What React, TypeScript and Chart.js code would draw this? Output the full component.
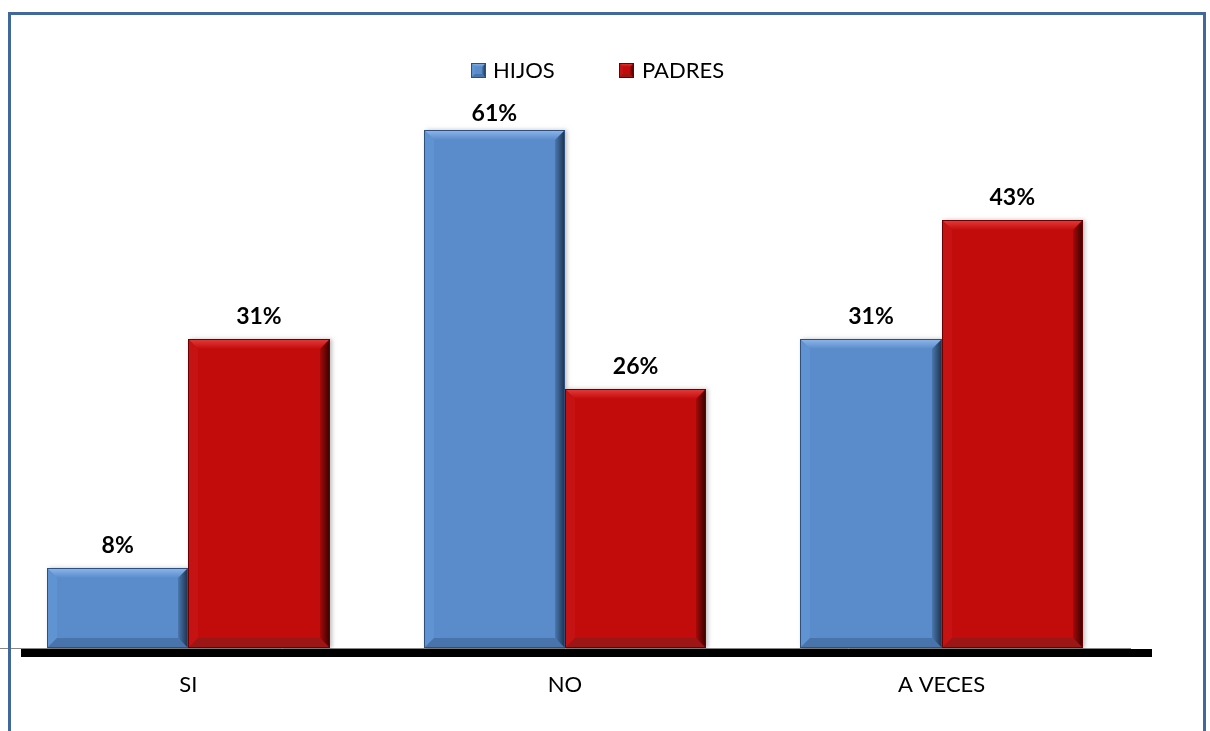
import React, { useEffect, useRef } from "react";
import { Chart, registerables } from "chart.js";
Chart.register(...registerables);

const categories = ["SI", "NO", "A VECES"];
const seriesNames = ["HIJOS", "PADRES"];
const hijos = [0.08, 0.61, 0.31];
const padres = [0.31, 0.26, 0.43];
const yMax = 0.52;

const FONT = "Lato, 'Open Sans', sans-serif";

const palettes = [
  { fill: "#5a8bca", top: "#8fb8ec", left: "#6093d2", bottom: "#4874ab", rightIn: "#4a78b0", rightOut: "#1b2f4a", outline: "#2f507c" },
  { fill: "#c20b0b", top: "#e63c3c", left: "#c51212", bottom: "#9c1616", rightIn: "#a40a0a", rightOut: "#360000", outline: "#6a0000" },
];

function bevelRect(ctx: CanvasRenderingContext2D, L: number, T: number, R: number, B: number, p: any, bv: number) {
  ctx.fillStyle = p.fill;
  ctx.fillRect(L, T, R - L, B - T);
  // top
  let g = ctx.createLinearGradient(0, T, 0, T + bv);
  g.addColorStop(0, p.top);
  g.addColorStop(1, p.fill);
  ctx.fillStyle = g;
  ctx.beginPath();
  ctx.moveTo(L, T); ctx.lineTo(R, T); ctx.lineTo(R - bv, T + bv); ctx.lineTo(L + bv, T + bv); ctx.closePath();
  ctx.fill();
  // left
  ctx.fillStyle = p.left;
  ctx.beginPath();
  ctx.moveTo(L, T); ctx.lineTo(L + bv, T + bv); ctx.lineTo(L + bv, B - bv); ctx.lineTo(L, B); ctx.closePath();
  ctx.fill();
  // bottom
  ctx.fillStyle = p.bottom;
  ctx.beginPath();
  ctx.moveTo(L, B); ctx.lineTo(L + bv, B - bv); ctx.lineTo(R - bv, B - bv); ctx.lineTo(R, B); ctx.closePath();
  ctx.fill();
  // right
  g = ctx.createLinearGradient(R - bv, 0, R, 0);
  g.addColorStop(0, p.rightIn);
  g.addColorStop(1, p.rightOut);
  ctx.fillStyle = g;
  ctx.beginPath();
  ctx.moveTo(R, T); ctx.lineTo(R, B); ctx.lineTo(R - bv, B - bv); ctx.lineTo(R - bv, T + bv); ctx.closePath();
  ctx.fill();
  ctx.strokeStyle = p.outline;
  ctx.lineWidth = 1;
  ctx.strokeRect(L + 0.5, T + 0.5, R - L - 1, B - T - 1);
}

const decorPlugin = {
  id: "decor",
  afterDatasetsDraw(chart: any) {
    const ctx: CanvasRenderingContext2D = chart.ctx;
    const area = chart.chartArea;
    ctx.save();
    chart.data.datasets.forEach((ds: any, i: number) => {
      const meta = chart.getDatasetMeta(i);
      meta.data.forEach((bar: any, j: number) => {
        const { x, y, base, width } = bar.getProps(["x", "y", "base", "width"], true);
        const L = Math.round(x - width / 2);
        const R = Math.round(x + width / 2);
        const clipped = y < area.top;
        const T = Math.round(Math.max(y, area.top));
        const B = Math.round(base);
        ctx.shadowColor = "rgba(0,0,0,0.25)";
        ctx.shadowBlur = 4;
        ctx.shadowOffsetX = 2;
        ctx.shadowOffsetY = 0;
        ctx.fillStyle = palettes[i].fill;
        ctx.fillRect(L, T, R - L, B - T);
        ctx.shadowColor = "transparent";
        ctx.shadowBlur = 0;
        ctx.shadowOffsetX = 0;
        bevelRect(ctx, L, T, R, B, palettes[i], 10);
        const v = ds.data[j];
        ctx.fillStyle = "#000";
        ctx.font = `bold 23px ${FONT}`;
        ctx.textAlign = "center";
        ctx.textBaseline = "alphabetic";
        ctx.fillText(`${Math.round(v * 100)}%`, x, T - (clipped ? 9 : 15));
      });
    });
    ctx.restore();
  },
  afterDraw(chart: any) {
    const ctx: CanvasRenderingContext2D = chart.ctx;
    ctx.save();
    // thick black baseline
    ctx.fillStyle = "#000";
    ctx.fillRect(21, 649, 1131, 8);
    // outer border
    ctx.strokeStyle = "#41689a";
    ctx.lineWidth = 3;
    ctx.strokeRect(9.5, 13.5, 1195, 800);
    // legend
    const items = [
      { x: 471, tx: 493 },
      { x: 619, tx: 642 },
    ];
    ctx.font = `22px ${FONT}`;
    ctx.textAlign = "left";
    ctx.textBaseline = "alphabetic";
    items.forEach((it, i) => {
      bevelRect(ctx, it.x, 63, it.x + 15, 78, palettes[i], 4);
      ctx.fillStyle = "#000";
      ctx.fillText(seriesNames[i], it.tx, 78);
    });
    ctx.restore();
  },
};

export default function App() {
  const ref = useRef<HTMLCanvasElement | null>(null);
  useEffect(() => {
    if (!ref.current) return;
    const chart = new Chart(ref.current, {
      type: "bar",
      data: {
        labels: categories,
        datasets: [
          { label: seriesNames[0], data: hijos, backgroundColor: "rgba(0,0,0,0)", borderWidth: 0, categoryPercentage: 0.75, barPercentage: 1 },
          { label: seriesNames[1], data: padres, backgroundColor: "rgba(0,0,0,0)", borderWidth: 0, categoryPercentage: 0.75, barPercentage: 1 },
        ],
      },
      options: {
        responsive: false,
        animation: false,
        layout: { padding: { top: 130, right: 80, left: 0, bottom: 0 } },
        plugins: { legend: { display: false }, tooltip: { enabled: false } },
        scales: {
          x: {
            grid: { display: false },
            border: { display: true, color: "#878787", width: 1 },
            ticks: { color: "#000", font: { family: FONT, size: 22 }, padding: 16 },
            afterFit: (scale: any) => { scale.height = 83; },
          },
          y: { display: false, min: 0, max: yMax },
        },
      },
      plugins: [decorPlugin],
    });
    return () => chart.destroy();
  }, []);
  return (
    <div style={{ position: "absolute", left: 0, top: 0, width: 1210, height: 731, background: "#fff" }}>
      <canvas ref={ref} width={1210} height={731} />
    </div>
  );
}
